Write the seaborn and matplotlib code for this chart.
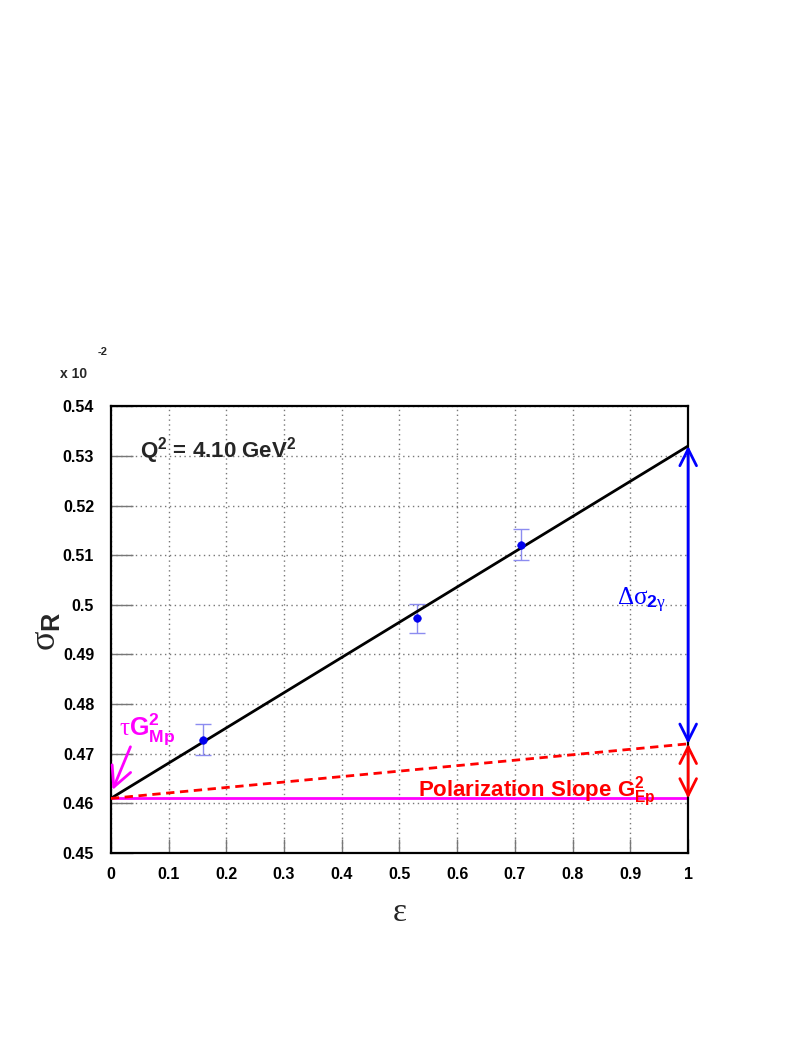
import matplotlib
matplotlib.use("Agg")
import matplotlib.pyplot as plt
import seaborn as sns
import pandas as pd

# measured points (sigma_R in units of 1e-2)
eps_points = [0.16, 0.53, 0.71]
sigma_points = [0.4728, 0.4973, 0.5121]
sigma_errors = [0.0031, 0.0029, 0.0031]

# Rosenbluth fit and the polarization-slope line
fit_eps = [0.0, 1.0]
fit_sigma = [0.461, 0.532]
pol_sigma = [0.461, 0.472]
tau_gm2 = 0.461

x_ticks = [0, 0.1, 0.2, 0.3, 0.4, 0.5, 0.6, 0.7, 0.8, 0.9, 1]
x_tick_labels = ["0", "0.1", "0.2", "0.3", "0.4", "0.5", "0.6", "0.7", "0.8", "0.9", "1"]
y_ticks = [0.45, 0.46, 0.47, 0.48, 0.49, 0.50, 0.51, 0.52, 0.53, 0.54]
y_tick_labels = ["0.45", "0.46", "0.47", "0.48", "0.49", "0.5", "0.51", "0.52", "0.53", "0.54"]

sns.set_style("white")
plt.rcParams["font.family"] = ["Liberation Sans", "DejaVu Sans"]
# upright serif greek (ROOT symbol font look), bold sans for the rest
plt.rcParams["mathtext.fontset"] = "custom"
plt.rcParams["mathtext.rm"] = "Liberation Serif"
plt.rcParams["mathtext.it"] = "Liberation Serif"
plt.rcParams["mathtext.bf"] = "Liberation Sans:bold"

fig = plt.figure(figsize=(8.03, 10.39), dpi=100)
ax = fig.add_axes([0.138, 0.179, 0.719, 0.430])

pts = pd.DataFrame({"eps": eps_points, "sigma": sigma_points})
fit = pd.DataFrame({"eps": fit_eps, "fit": fit_sigma, "pol": pol_sigma})

ax.errorbar(eps_points, sigma_points, yerr=sigma_errors, fmt="none",
            ecolor="#8c8cf0", elinewidth=1, capsize=5.5, capthick=1, zorder=3)
sns.scatterplot(data=pts, x="eps", y="sigma", ax=ax, color="#0000ee",
                s=30, edgecolor="#0000ee", zorder=4, legend=False)
sns.lineplot(data=fit, x="eps", y="fit", ax=ax, color="black", linewidth=2, zorder=3)
sns.lineplot(data=fit, x="eps", y="pol", ax=ax, color="red", linewidth=2,
             linestyle=(0, (3, 2)), zorder=3)
ax.axhline(tau_gm2, color="#ff00ff", linewidth=2, zorder=2)

ax.set_xlim(0, 1)
ax.set_ylim(0.45, 0.54)
ax.set_xticks(x_ticks)
ax.set_xticklabels(x_tick_labels, fontsize=11.5, fontweight="bold")
ax.set_yticks(y_ticks)
ax.set_yticklabels(y_tick_labels, fontsize=11.5, fontweight="bold")
ax.tick_params(axis="y", direction="in", length=16, width=1, pad=12,
               left=True, right=False, color="#777777", labelcolor="black")
ax.tick_params(axis="x", direction="in", length=10, width=1, pad=10,
               bottom=True, top=False, color="#777777", labelcolor="black")
ax.set_xlabel("")
ax.set_ylabel("")
ax.grid(True, linestyle=(0, (1, 2.5)), color="#777777", linewidth=1)
for s in ax.spines.values():
    s.set_color("black")
    s.set_linewidth(1.6)

# arrows on the right edge
ax.annotate("", xy=(1, fit_sigma[1]), xytext=(1, pol_sigma[1]),
            arrowprops=dict(arrowstyle="<->", color="#0000ff", lw=2,
                            mutation_scale=30, shrinkA=0, shrinkB=0),
            annotation_clip=False)
ax.annotate("", xy=(1, pol_sigma[1]), xytext=(1, tau_gm2),
            arrowprops=dict(arrowstyle="<->", color="red", lw=2,
                            mutation_scale=30, shrinkA=0, shrinkB=0),
            annotation_clip=False)
ax.annotate("", xy=(0.003, 0.4627), xytext=(0.034, 0.4714),
            arrowprops=dict(arrowstyle="->", color="#ff00ff", lw=2,
                            mutation_scale=36, shrinkA=0, shrinkB=0),
            annotation_clip=False)

ax.text(0.05, 0.5297, r"$\mathbf{Q^2}$ = 4.10 GeV$\mathbf{^2}$", fontsize=16,
        fontweight="bold", va="baseline", ha="left")
ax.text(0.014, 0.4738, r"$\tau\mathbf{G^2_{Mp}}$", fontsize=18, color="#ff00ff",
        va="baseline", ha="left")
ax.text(0.532, 0.4613, r"Polarization Slope $\mathbf{G^2_{Ep}}$", fontsize=16,
        fontweight="bold", color="red", va="baseline", ha="left")
ax.text(0.877, 0.4999, r"$\Delta\sigma_{\mathbf{2}\gamma}$", fontsize=18, color="#0000ff",
        va="baseline", ha="left")

fig.text(0.075, 0.636, "x 10", fontsize=10, fontweight="bold")
fig.text(0.122, 0.658, "-2", fontsize=8, fontweight="bold")
fig.text(0.058, 0.392, r"$\sigma_{\mathbf{R}}$", fontsize=26, ha="center", va="center",
         rotation=90)
fig.text(0.497, 0.122, r"$\epsilon$", fontsize=24, ha="center", va="center")

fig.savefig("out.png", dpi=100)
